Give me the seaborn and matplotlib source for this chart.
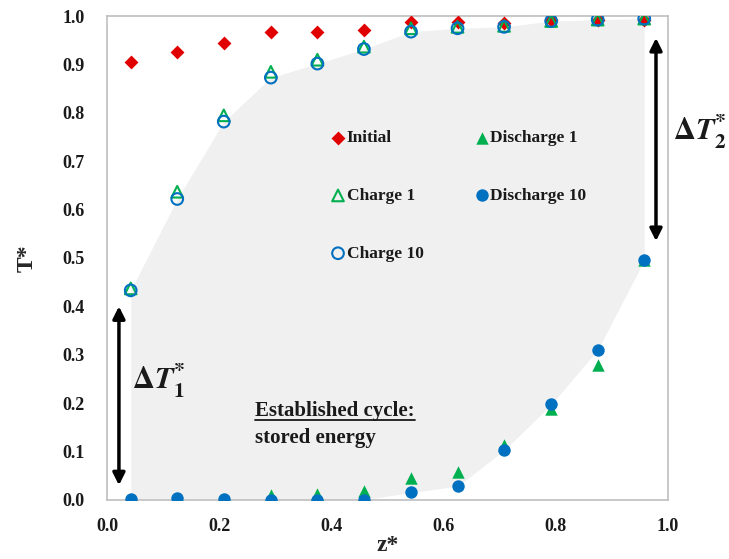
import matplotlib
matplotlib.use("Agg")
import matplotlib.pyplot as plt
import seaborn as sns

# posiciones adimensionales z* (12 nodos)
z = [0.042, 0.125, 0.208, 0.292, 0.375, 0.458, 0.542, 0.625, 0.708, 0.792, 0.875, 0.958]

inicial = [0.905, 0.925, 0.945, 0.967, 0.968, 0.972, 0.987, 0.987, 0.985, 0.992, 0.993, 0.993]
carga1 = [0.437, 0.637, 0.795, 0.885, 0.910, 0.937, 0.975, 0.978, 0.980, 0.990, 0.993, 0.995]
carga10 = [0.433, 0.622, 0.782, 0.873, 0.902, 0.932, 0.968, 0.975, 0.978, 0.990, 0.993, 0.995]
descarga1 = [0.0, 0.0, 0.0, 0.010, 0.012, 0.018, 0.045, 0.057, 0.113, 0.187, 0.278, 0.495]
descarga10 = [0.002, 0.003, 0.002, 0.0, 0.0, 0.0, 0.015, 0.028, 0.102, 0.197, 0.310, 0.495]

ROJO = "#E00000"
VERDE = "#00B050"
AZUL = "#0070C0"
TEXTO = "#1A1A1A"

sns.set_style("white")
plt.rcParams["font.family"] = ["Liberation Serif", "DejaVu Serif"]
plt.rcParams["font.weight"] = "bold"
plt.rcParams["mathtext.fontset"] = "stix"
plt.rcParams["text.color"] = TEXTO

fig = plt.figure(figsize=(7.29, 5.59), dpi=100)
ax = fig.add_axes([0.147, 0.106, 0.769, 0.865])

# zona de energia almacenada
ax.fill_between(z, descarga10, carga10, color="#F0F0F0", lw=0, zorder=0)

sns.scatterplot(x=z, y=inicial, marker="D", s=50, color=ROJO, linewidth=0,
                label="Initial", ax=ax, zorder=3)
sns.scatterplot(x=z, y=carga1, marker="^", s=70, fc="none", ec=VERDE, linewidth=1.5,
                label="Charge 1", ax=ax, zorder=4)
sns.scatterplot(x=z, y=carga10, marker="o", s=70, fc="none", ec=AZUL, linewidth=1.5,
                label="Charge 10", ax=ax, zorder=4)
sns.scatterplot(x=z, y=descarga1, marker="^", s=80, color=VERDE, linewidth=0,
                label="Discharge 1", ax=ax, zorder=3)
sns.scatterplot(x=z, y=descarga10, marker="o", s=80, color=AZUL, linewidth=0,
                label="Discharge 10", ax=ax, zorder=3)

ax.set_xlim(0, 1)
ax.set_ylim(0, 1)
ax.set_xticks([0.0, 0.2, 0.4, 0.6, 0.8, 1.0])
ax.set_yticks([i / 10 for i in range(11)])
ax.xaxis.set_major_formatter(matplotlib.ticker.FormatStrFormatter("%.1f"))
ax.yaxis.set_major_formatter(matplotlib.ticker.FormatStrFormatter("%.1f"))
ax.tick_params(length=0, labelsize=13, pad=16, labelcolor=TEXTO)
ax.tick_params(axis="x", pad=13)
for s in ax.spines.values():
    s.set_color("#BFBFBF")
    s.set_linewidth(1.2)

ax.set_xlabel("z*", fontsize=17, fontweight="bold", labelpad=0)
ax.set_ylabel("T*", fontsize=17, fontweight="bold", labelpad=18)

ax.legend(loc="upper left", bbox_to_anchor=(0.387, 0.779), ncol=2, frameon=False,
          fontsize=12.5, labelspacing=2.4, columnspacing=2.95,
          handlelength=0.8, handletextpad=0.1, borderaxespad=0)

# flechas de diferencia de temperatura
flecha = dict(arrowstyle="<|-|>", color="black", lw=2.5, mutation_scale=18,
              shrinkA=0, shrinkB=0)
ax.annotate("", xy=(0.979, 0.955), xytext=(0.979, 0.535), arrowprops=flecha,
            annotation_clip=False)
ax.annotate("", xy=(0.021, 0.40), xytext=(0.021, 0.03), arrowprops=flecha)
ax.text(1.01, 0.76, r"$\Delta\mathbfit{T}_{\mathbf{2}}^{*}$", fontsize=22,
        va="center", ha="left", clip_on=False)
ax.text(0.045, 0.245, r"$\Delta\mathbfit{T}_{\mathbf{1}}^{*}$", fontsize=22,
        va="center", ha="left")

titulo = ax.text(0.264, 0.183, "Established cycle:", fontsize=15,
                 fontweight="bold", va="center", ha="left")
ax.text(0.264, 0.128, "stored energy", fontsize=15, fontweight="bold",
        va="center", ha="left")

# subrayado del titulo
fig.canvas.draw()
bb = titulo.get_window_extent().transformed(ax.transData.inverted())
ax.plot([bb.x0, bb.x1], [bb.y0 + 0.003, bb.y0 + 0.003], color=TEXTO, lw=1.3)

fig.savefig("out.png", dpi=100)
